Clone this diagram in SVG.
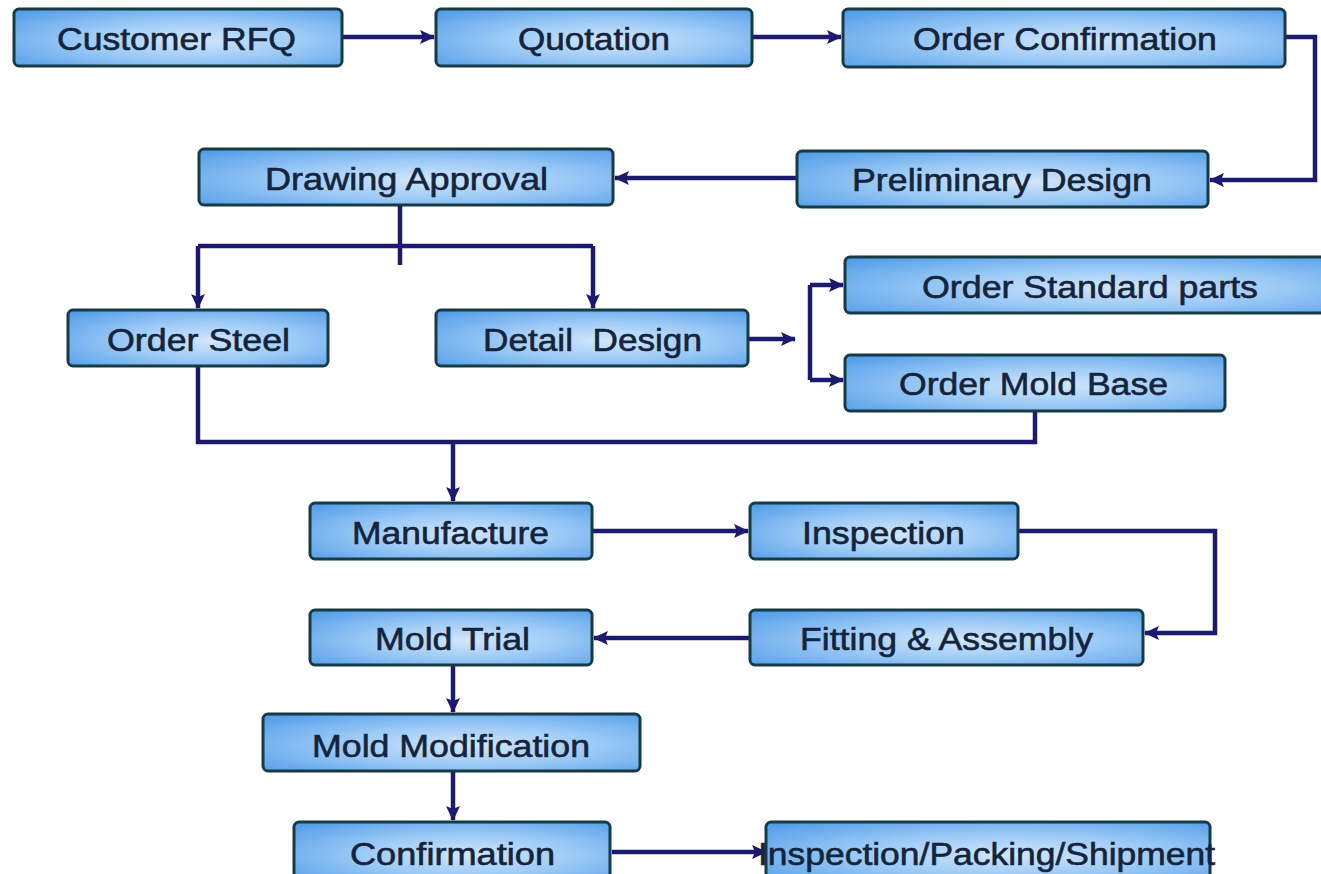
<svg xmlns="http://www.w3.org/2000/svg" width="1321" height="874" viewBox="0 0 1321 874">
  <defs>
    <radialGradient id="boxFill" cx="0.55" cy="0.55" r="0.75">
      <stop offset="0" stop-color="#d2e6fb"/>
      <stop offset="0.45" stop-color="#9ccaf6"/>
      <stop offset="1" stop-color="#4f9be8"/>
    </radialGradient>
    <marker id="arrow" markerUnits="userSpaceOnUse" markerWidth="15" markerHeight="14" refX="14" refY="7" orient="auto">
      <path d="M0,0 L15,7 L0,14 L3,7 z" fill="#1c1a6e"/>
    </marker>
  </defs>
  <style>
    .box { fill: url(#boxFill); stroke: #173b44; stroke-width: 3; }
    .lbl { font-family: "Liberation Sans", Arial, sans-serif; font-size: 32px; fill: #14243c; stroke: #14243c; stroke-width: 0.6; white-space: pre; }
    .conn { fill: none; stroke: #1c1a6e; stroke-width: 4.5; }
  </style>
  <rect width="1321" height="874" fill="#ffffff"/>

  <g id="connectors">
    <path class="conn" d="M342,37 H434" marker-end="url(#arrow)"/>
    <path class="conn" d="M752,37 H841" marker-end="url(#arrow)"/>
    <path class="conn" d="M1285,37 H1315 V180 H1210" marker-end="url(#arrow)"/>
    <path class="conn" d="M797,178 H615" marker-end="url(#arrow)"/>
    <path class="conn" d="M400,205 V265"/>
    <path class="conn" d="M198,246 H593"/>
    <path class="conn" d="M198,246 V308" marker-end="url(#arrow)"/>
    <path class="conn" d="M593,246 V308" marker-end="url(#arrow)"/>
    <path class="conn" d="M748,339 H795" marker-end="url(#arrow)"/>
    <path class="conn" d="M810,285 V380"/>
    <path class="conn" d="M810,285 H843" marker-end="url(#arrow)"/>
    <path class="conn" d="M810,380 H843" marker-end="url(#arrow)"/>
    <path class="conn" d="M198,366 V442 H1035 V411"/>
    <path class="conn" d="M453,442 V501" marker-end="url(#arrow)"/>
    <path class="conn" d="M592,531 H748" marker-end="url(#arrow)"/>
    <path class="conn" d="M1018,531 H1215 V633 H1145" marker-end="url(#arrow)"/>
    <path class="conn" d="M750,638 H594" marker-end="url(#arrow)"/>
    <path class="conn" d="M453,665 V712" marker-end="url(#arrow)"/>
    <path class="conn" d="M453,771 V820" marker-end="url(#arrow)"/>
    <path class="conn" d="M612,852 H766" marker-end="url(#arrow)"/>
  </g>

  <g id="customer-rfq"><rect class="box" x="14" y="9" width="328" height="57" rx="5"/><text class="lbl" x="57" y="50" textLength="239" lengthAdjust="spacingAndGlyphs">Customer RFQ</text></g>
  <g id="quotation"><rect class="box" x="436" y="9" width="316" height="57" rx="5"/><text class="lbl" x="518" y="50" textLength="152" lengthAdjust="spacingAndGlyphs">Quotation</text></g>
  <g id="order-confirmation"><rect class="box" x="843" y="9" width="442" height="58" rx="5"/><text class="lbl" x="913" y="50" textLength="304" lengthAdjust="spacingAndGlyphs">Order Confirmation</text></g>
  <g id="preliminary-design"><rect class="box" x="797" y="151" width="411" height="56" rx="5"/><text class="lbl" x="852" y="191" textLength="300" lengthAdjust="spacingAndGlyphs">Preliminary Design</text></g>
  <g id="drawing-approval"><rect class="box" x="199" y="149" width="414" height="56" rx="5"/><text class="lbl" x="265" y="190" textLength="283" lengthAdjust="spacingAndGlyphs">Drawing Approval</text></g>
  <g id="order-standard-parts"><rect class="box" x="845" y="257" width="490" height="56" rx="5"/><text class="lbl" x="922" y="298" textLength="336" lengthAdjust="spacingAndGlyphs">Order Standard parts</text></g>
  <g id="order-steel"><rect class="box" x="68" y="310" width="260" height="56" rx="5"/><text class="lbl" x="107" y="351" textLength="183" lengthAdjust="spacingAndGlyphs">Order Steel</text></g>
  <g id="detail-design"><rect class="box" x="436" y="310" width="312" height="56" rx="5"/><text class="lbl" x="483" y="351" textLength="219" lengthAdjust="spacingAndGlyphs">Detail  Design</text></g>
  <g id="order-mold-base"><rect class="box" x="845" y="355" width="380" height="56" rx="5"/><text class="lbl" x="899" y="395" textLength="269" lengthAdjust="spacingAndGlyphs">Order Mold Base</text></g>
  <g id="manufacture"><rect class="box" x="310" y="503" width="282" height="56" rx="5"/><text class="lbl" x="352" y="544" textLength="197" lengthAdjust="spacingAndGlyphs">Manufacture</text></g>
  <g id="inspection"><rect class="box" x="750" y="503" width="268" height="56" rx="5"/><text class="lbl" x="802" y="544" textLength="163" lengthAdjust="spacingAndGlyphs">Inspection</text></g>
  <g id="fitting-assembly"><rect class="box" x="750" y="610" width="393" height="55" rx="5"/><text class="lbl" x="800" y="650" textLength="293" lengthAdjust="spacingAndGlyphs">Fitting &amp; Assembly</text></g>
  <g id="mold-trial"><rect class="box" x="310" y="610" width="282" height="55" rx="5"/><text class="lbl" x="375" y="650" textLength="155" lengthAdjust="spacingAndGlyphs">Mold Trial</text></g>
  <g id="mold-modification"><rect class="box" x="263" y="714" width="377" height="57" rx="5"/><text class="lbl" x="312" y="757" textLength="278" lengthAdjust="spacingAndGlyphs">Mold Modification</text></g>
  <g id="confirmation"><rect class="box" x="294" y="822" width="316" height="60" rx="5"/><text class="lbl" x="350" y="865" textLength="205" lengthAdjust="spacingAndGlyphs">Confirmation</text></g>
  <g id="inspection-packing-shipment"><rect class="box" x="766" y="822" width="444" height="60" rx="5"/><text class="lbl" x="758" y="865" textLength="457" lengthAdjust="spacingAndGlyphs">Inspection/Packing/Shipment</text></g>
</svg>
